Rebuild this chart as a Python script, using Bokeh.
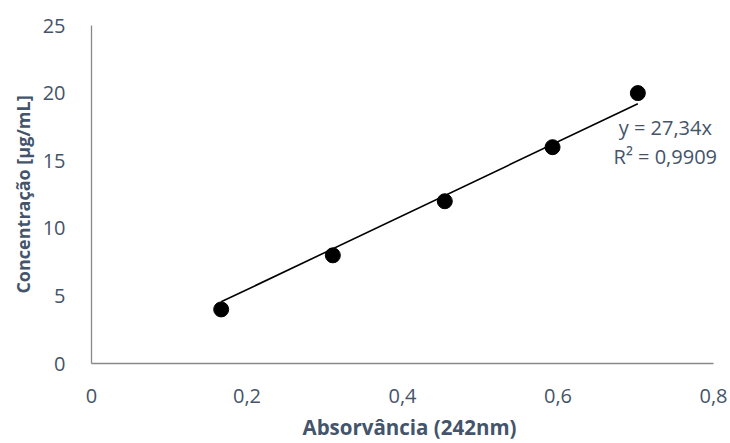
from bokeh.plotting import figure
from bokeh.models import Range1d, FixedTicker, CustomJSTickFormatter, Label, ColumnDataSource
from bokeh.embed import file_html
from bokeh.resources import INLINE

# Data
absorbance = [0.1668, 0.3104, 0.4544, 0.593, 0.7027]
concentration = [4, 8, 12, 16, 20]
slope = 27.34
r_squared = 0.9909
x_ticks = [0, 0.2, 0.4, 0.6, 0.8]
y_ticks = [0, 5, 10, 15, 20, 25]

TEXT = "#44546A"
AXIS = "#898989"
FONT = "Open Sans"

# frame extends a bit past 0.8 so the annotation is not clipped; axis line bounded to 0..0.8
x_end = 0.8 * (730 - 91 - 3) / (713 - 91)

p = figure(width=730, height=443, output_backend="svg", toolbar_location=None,
           x_range=Range1d(0, x_end), y_range=Range1d(0, 25),
           min_border_left=91, min_border_right=3, min_border_top=25, min_border_bottom=79)
p.outline_line_color = None
p.grid.grid_line_color = None
p.background_fill_color = "white"
p.border_fill_color = "white"

# trendline through origin
tx = [min(absorbance), max(absorbance)]
ty = [slope * v for v in tx]
p.line(tx, ty, line_color="black", line_width=1.6)

src = ColumnDataSource(data=dict(x=absorbance, y=concentration))
p.scatter("x", "y", source=src, size=15, fill_color="black", line_color="black")

for ax in (p.xaxis[0], p.yaxis[0]):
    ax.axis_line_color = AXIS
    ax.axis_line_width = 1.3
    ax.major_tick_line_color = None
    ax.minor_tick_line_color = None
    ax.major_label_text_color = TEXT
    ax.major_label_text_font = FONT
    ax.major_label_text_font_size = "20px"
    ax.axis_label_text_color = TEXT
    ax.axis_label_text_font = FONT
    ax.axis_label_text_font_style = "bold"

p.xaxis.axis_label_text_font_size = "20.5px"
p.yaxis.axis_label_text_font_size = "18px"
p.xaxis.bounds = (0, 0.8)
p.xaxis.ticker = FixedTicker(ticks=x_ticks)
p.yaxis.ticker = FixedTicker(ticks=y_ticks)
p.xaxis.formatter = CustomJSTickFormatter(code="return tick == 0 ? '0' : tick.toFixed(1).replace('.', ',');")
p.xaxis.major_label_standoff = 19
p.yaxis.major_label_standoff = 20
p.xaxis.axis_label = "Absorvância (242nm)"
p.yaxis.axis_label = "Concentração [µg/mL]"
p.xaxis.axis_label_standoff = 7
p.yaxis.axis_label_standoff = 5

eq = "y = " + f"{slope:.2f}".replace(".", ",") + "x"
r2 = "R² = " + f"{r_squared:.4f}".replace(".", ",")
p.add_layout(Label(x=0.738, y=17.44, text=eq, text_align="center", text_baseline="middle",
                   text_color=TEXT, text_font=FONT, text_font_size="20px"))
p.add_layout(Label(x=0.738, y=15.3, text=r2, text_align="center", text_baseline="middle",
                   text_color=TEXT, text_font=FONT, text_font_size="20px"))

open("out.html", "w").write(file_html(p, INLINE))
